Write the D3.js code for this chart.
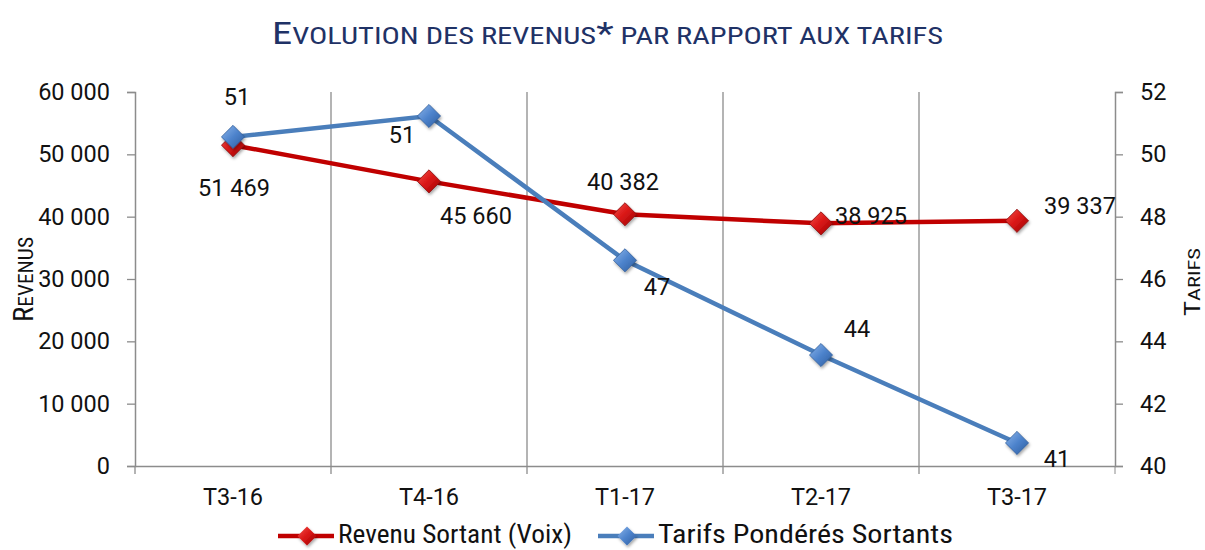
<!DOCTYPE html>
<html>
<head>
<meta charset="utf-8">
<script src="https://cdn.jsdelivr.net/npm/d3@7"></script>
<style>
  body { margin: 0; background: #fff; }
  svg { font-family: Roboto, "Liberation Sans", sans-serif; }
  .narrow { font-family: "Liberation Sans Narrow", "Roboto Condensed", "Liberation Sans", sans-serif; }
</style>
</head>
<body>
<svg id="chart" width="1205" height="550"></svg>
<script>
// data
const categories = ["T3-16", "T4-16", "T1-17", "T2-17", "T3-17"];
const revenus = [51469, 45660, 40382, 38925, 39337];
const tarifs = [50.56, 51.23, 46.6, 43.56, 40.74];
const revenusLabels = ["51 469", "45 660", "40 382", "38 925", "39 337"];
const tarifsLabels = ["51", "51", "47", "44", "41"];
const leftTicks = [0, 10000, 20000, 30000, 40000, 50000, 60000];
const rightTicks = [40, 42, 44, 46, 48, 50, 52];

const margin = { top: 92, right: 90, bottom: 84, left: 135 };
const width = 1205 - margin.left - margin.right;
const height = 550 - margin.top - margin.bottom;

const svg = d3.select("#chart");
const defs = svg.append("defs");

// gradients for the bevelled diamonds
function makeGrad(id, light, mid, dark) {
    const grad = defs.append("linearGradient").attr("id", id)
        .attr("x1", "0").attr("y1", "0").attr("x2", "1").attr("y2", "1");
    grad.append("stop").attr("offset", "0%").attr("stop-color", light);
    grad.append("stop").attr("offset", "50%").attr("stop-color", mid);
    grad.append("stop").attr("offset", "100%").attr("stop-color", dark);
}
makeGrad("gradRed", "#f4514b", "#d81414", "#960808");
makeGrad("gradBlue", "#8cb5ea", "#4d83cc", "#2d5c9e");

const shadow = defs.append("filter").attr("id", "shadow")
    .attr("x", "-50%").attr("y", "-50%").attr("width", "200%").attr("height", "200%");
shadow.append("feDropShadow").attr("dx", 1).attr("dy", 2).attr("stdDeviation", 1.5)
    .attr("flood-color", "#000").attr("flood-opacity", 0.35);

const g = svg.append("g").attr("transform", `translate(${margin.left},${margin.top})`);

const x = d3.scaleBand().domain(categories).range([0, width]).padding(0);
const yLeft = d3.scaleLinear().domain([0, 60000]).range([height, 0]);
const yRight = d3.scaleLinear().domain([40, 52]).range([height, 0]);
const cx = d => x(d) + x.bandwidth() / 2;

const axisColor = "#8c8c8c";
const fmt = v => d3.format(",")(v).replace(/,/g, " ");

// vertical grid lines between categories
g.append("g").selectAll("line")
    .data(categories.slice(1))
    .join("line")
    .attr("x1", d => x(d)).attr("x2", d => x(d))
    .attr("y1", 0).attr("y2", height)
    .attr("stroke", axisColor).attr("stroke-width", 1.3);

// left axis
const leftAxis = g.append("g")
    .call(d3.axisLeft(yLeft).tickValues(leftTicks).tickFormat(fmt).tickSize(8).tickPadding(17));
// right axis
const rightAxis = g.append("g").attr("transform", `translate(${width},0)`)
    .call(d3.axisRight(yRight).tickValues(rightTicks).tickSize(8).tickPadding(17));
// bottom axis
const bottomAxis = g.append("g").attr("transform", `translate(0,${height})`)
    .call(d3.axisBottom(x).tickSize(0).tickPadding(22));
bottomAxis.selectAll(".tick").data(categories).append("line")
    .attr("x1", -x.bandwidth() / 2).attr("x2", -x.bandwidth() / 2)
    .attr("y1", 0).attr("y2", 8).attr("stroke", axisColor);
bottomAxis.append("line").attr("x1", width).attr("x2", width).attr("y1", 0).attr("y2", 8)
    .attr("stroke", axisColor);

[leftAxis, rightAxis, bottomAxis].forEach(a => {
    a.select(".domain").attr("stroke", axisColor).attr("stroke-width", 1.5);
    a.selectAll(".tick line").attr("stroke", axisColor).attr("stroke-width", 1.3);
    a.selectAll("text").attr("font-size", 23.5).attr("fill", "#111")
        .attr("font-family", "Roboto, 'Liberation Sans', sans-serif");
});

// lines
const lineRev = d3.line().x((d, i) => cx(categories[i])).y(d => yLeft(d));
const lineTar = d3.line().x((d, i) => cx(categories[i])).y(d => yRight(d));
const diamond = d3.symbol().type(d3.symbolDiamond2).size(340);

g.append("path").datum(revenus).attr("d", lineRev)
    .attr("fill", "none").attr("stroke", "#c00000").attr("stroke-width", 4.5);
g.append("g").selectAll("path").data(revenus).join("path")
    .attr("d", diamond)
    .attr("transform", (d, i) => `translate(${cx(categories[i])},${yLeft(d)})`)
    .attr("fill", "url(#gradRed)").attr("stroke", "#8a0a0a").attr("stroke-width", 0.8)
    .attr("filter", "url(#shadow)");

g.append("path").datum(tarifs).attr("d", lineTar)
    .attr("fill", "none").attr("stroke", "#4a7ebb").attr("stroke-width", 4.5);
g.append("g").selectAll("path").data(tarifs).join("path")
    .attr("d", diamond)
    .attr("transform", (d, i) => `translate(${cx(categories[i])},${yRight(d)})`)
    .attr("fill", "url(#gradBlue)").attr("stroke", "#2f5d9a").attr("stroke-width", 0.8)
    .attr("filter", "url(#shadow)");

// data labels (offsets in px from the point)
const revOffsets = [[1, 43], [47, 34], [-2, -33], [50, -8], [63, -15]];
const tarOffsets = [[4, -40], [-27, 19], [32, 26], [36, -26], [40, 16]];

g.append("g").selectAll("text").data(revenus).join("text")
    .attr("x", (d, i) => cx(categories[i]) + revOffsets[i][0])
    .attr("y", (d, i) => yLeft(d) + revOffsets[i][1])
    .attr("text-anchor", "middle").attr("dy", "0.35em")
    .attr("font-size", 23.5).attr("fill", "#111")
    .text((d, i) => revenusLabels[i]);

g.append("g").selectAll("text").data(tarifs).join("text")
    .attr("x", (d, i) => cx(categories[i]) + tarOffsets[i][0])
    .attr("y", (d, i) => yRight(d) + tarOffsets[i][1])
    .attr("text-anchor", "middle").attr("dy", "0.35em")
    .attr("font-size", 23.5).attr("fill", "#111")
    .text((d, i) => tarifsLabels[i]);

// title (small caps look, squeezed to the reference width)
const title = svg.append("text").attr("class", "narrow")
    .attr("x", 272).attr("y", 44).attr("fill", "#1f3266")
    .attr("textLength", 671).attr("lengthAdjust", "spacingAndGlyphs");
title.append("tspan").attr("font-size", 32).text("E");
title.append("tspan").attr("font-size", 24).text("VOLUTION DES REVENUS");
title.append("tspan").attr("font-size", 32).text("*");
title.append("tspan").attr("font-size", 24).text(" PAR RAPPORT AUX TARIFS");

// axis titles
const yTitleL = svg.append("text").attr("class", "narrow")
    .attr("transform", "translate(33,322) rotate(-90)")
    .attr("fill", "#111")
    .attr("textLength", 85).attr("lengthAdjust", "spacingAndGlyphs");
yTitleL.append("tspan").attr("font-size", 27).text("R");
yTitleL.append("tspan").attr("font-size", 20).text("EVENUS");

const yTitleR = svg.append("text").attr("class", "narrow")
    .attr("transform", "translate(1200,316) rotate(-90)")
    .attr("fill", "#111")
    .attr("textLength", 68).attr("lengthAdjust", "spacingAndGlyphs");
yTitleR.append("tspan").attr("font-size", 22).text("T");
yTitleR.append("tspan").attr("font-size", 17).text("ARIFS");

// legend
const legendItems = [
    { name: "Revenu Sortant (Voix)", color: "#c00000", grad: "url(#gradRed)", x: 278, len: 234 },
    { name: "Tarifs Pondérés Sortants", color: "#4a7ebb", grad: "url(#gradBlue)", x: 598, len: 295 }
];
const legend = svg.append("g").attr("transform", "translate(0,536)");
const li = legend.selectAll("g").data(legendItems).join("g")
    .attr("transform", d => `translate(${d.x},0)`);
li.append("line").attr("x1", 0).attr("x2", 56).attr("y1", 0).attr("y2", 0)
    .attr("stroke", d => d.color).attr("stroke-width", 4.5);
li.append("path").attr("d", d3.symbol().type(d3.symbolDiamond2).size(230))
    .attr("transform", "translate(29,0)")
    .attr("fill", d => d.grad).attr("filter", "url(#shadow)");
li.append("text").attr("class", "narrow").attr("x", 60).attr("y", 7)
    .attr("font-size", 25).attr("fill", "#111")
    .attr("textLength", d => d.len).attr("lengthAdjust", "spacingAndGlyphs")
    .text(d => d.name);
</script>
</body>
</html>
